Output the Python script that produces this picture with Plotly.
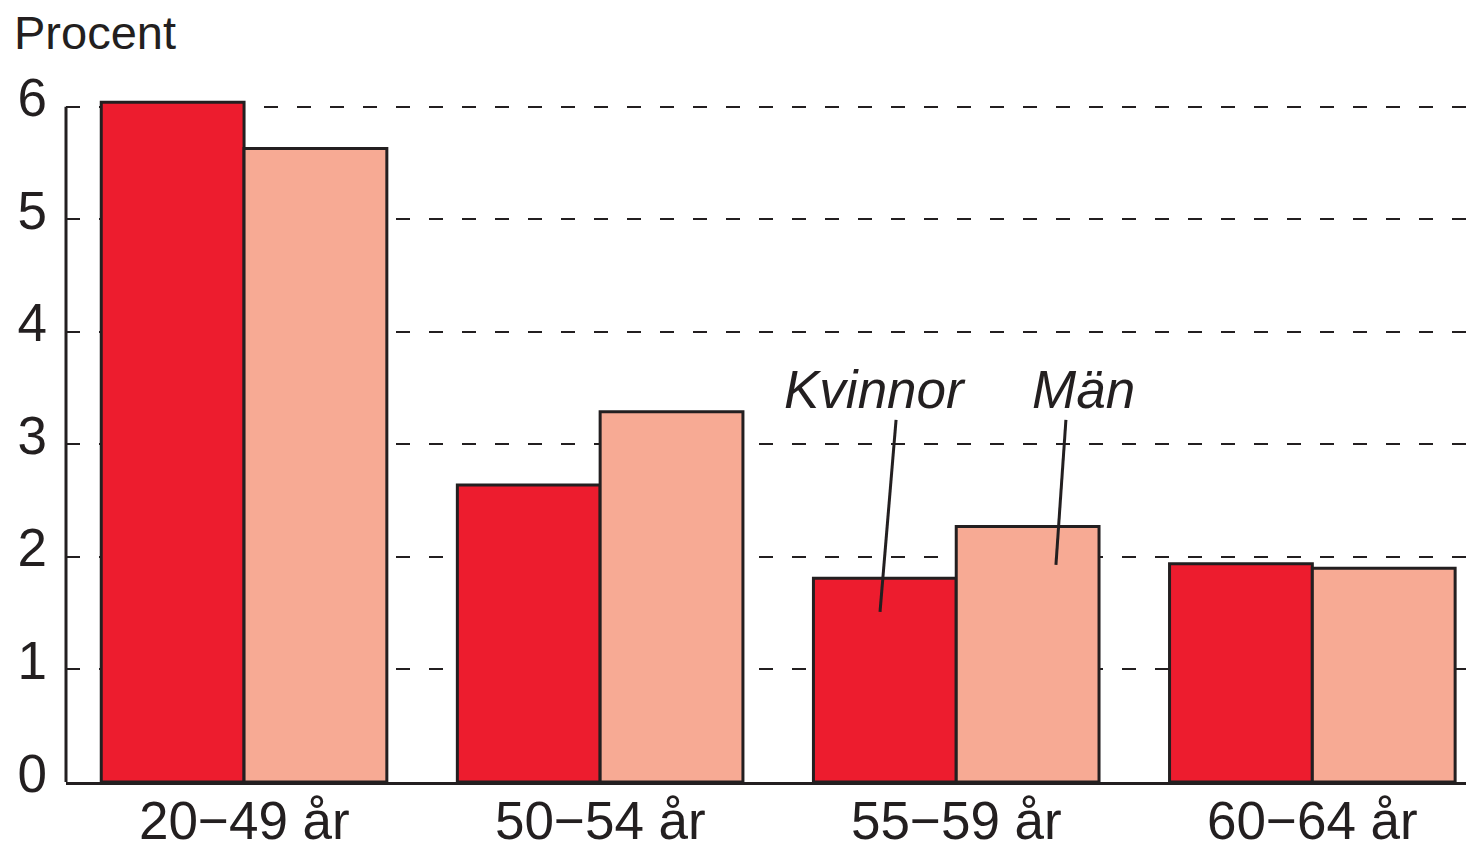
import plotly.graph_objects as go

categories = ["20\u221249 år", "50\u221254 år", "55\u221259 år", "60\u221264 år"]
kvinnor = [6.04, 2.64, 1.81, 1.94]
man = [5.63, 3.29, 2.27, 1.90]
y_ticks = [0, 1, 2, 3, 4, 5, 6]

RED = "#ED1C2E"
SALMON = "#F7AA94"
DARK = "#231F20"
FONT = "Liberation Sans, Arial, sans-serif"

fig = go.Figure()
fig.add_trace(go.Bar(x=categories, y=kvinnor, name="Kvinnor", marker=dict(color=RED, line=dict(color=DARK, width=3))))
fig.add_trace(go.Bar(x=categories, y=man, name="Män", marker=dict(color=SALMON, line=dict(color=DARK, width=3))))

# page body adds an 8px offset, so the figure is 8px smaller
fig.update_layout(
    width=1466, height=837,
    margin=dict(l=58, r=0, t=92, b=63, autoexpand=False),
    plot_bgcolor="white", paper_bgcolor="white",
    barmode="group", bargap=0.198, bargroupgap=0,
    showlegend=False,
    font=dict(family=FONT, color=DARK, size=46),
)
fig.update_xaxes(
    type="category", range=[-0.5, 3.454], showgrid=False, automargin=False,
    showline=True, linecolor=DARK, linewidth=3, ticks="",
    showticklabels=False,
)
fig.update_yaxes(
    range=[0, 6.06], tickvals=y_ticks, showline=False, automargin=False,
    showgrid=True, gridcolor=DARK, gridwidth=2, griddash="14px,19px",
    ticks="inside", ticklen=12, tickwidth=2, tickcolor=DARK,
    tickfont=dict(size=53), ticklabelstandoff=18, ticklabelshift=-9, zeroline=False,
)
# x category labels
for c in categories:
    fig.add_annotation(text=c, xref="x", yref="paper", x=c, y=-0.056,
                       yanchor="middle", showarrow=False, font=dict(size=53))

# y axis line from 0 to 6
fig.add_shape(type="line", xref="paper", yref="y", x0=0, x1=0, y0=0, y1=6,
              line=dict(color=DARK, width=3), layer="above")

fig.add_annotation(text="Procent", xref="paper", yref="paper", x=-0.0384, y=1.0986,
                   xanchor="left", yanchor="middle", showarrow=False, font=dict(size=47))
fig.add_annotation(text="<i>Kvinnor</i>", xref="x", yref="y", x=1.772, y=3.484,
                   showarrow=False, font=dict(size=53))
fig.add_annotation(text="<i>Män</i>", xref="x", yref="y", x=2.356, y=3.484,
                   showarrow=False, font=dict(size=53))
fig.add_shape(type="line", xref="x", yref="y", x0=1.831, y0=3.218, x1=1.786, y1=1.511,
              line=dict(color=DARK, width=3), layer="above")
fig.add_shape(type="line", xref="x", yref="y", x0=2.308, y0=3.218, x1=2.280, y1=1.929,
              line=dict(color=DARK, width=3), layer="above")

fig.write_html("out.html")
